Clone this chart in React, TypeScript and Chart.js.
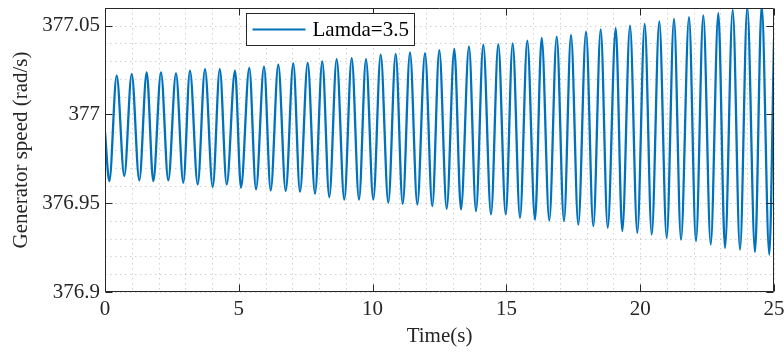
import React, { useEffect, useRef } from "react";
import { Chart, registerables } from "chart.js";

Chart.register(...registerables);

const seriesLabel = "Lamda=3.5";
const xAxisTitle = "Time(s)";
const yAxisTitle = "Generator speed (rad/s)";

// Extrema of the oscillation (time in s)
const timeValues = [
  0, 0.161, 0.437, 0.721, 0.998, 1.282, 1.558, 1.805, 2.093, 2.365, 2.653, 2.926,
  3.176, 3.464, 3.737, 4.025, 4.29, 4.548, 4.858, 5.082, 5.392, 5.643, 5.942, 6.192,
  6.476, 6.753, 7.036, 7.287, 7.575, 7.848, 8.12, 8.382, 8.658, 8.942, 9.219, 9.492,
  9.753, 10.026, 10.303, 10.587, 10.863, 11.125, 11.398, 11.671, 11.958, 12.231,
  12.493, 12.769, 13.053, 13.303, 13.602, 13.864, 14.137, 14.425, 14.697, 14.974,
  15.235, 15.508, 15.781, 16.069, 16.319, 16.603, 16.88, 17.152, 17.414, 17.687,
  17.975, 18.248, 18.524, 18.786, 19.085, 19.331, 19.619, 19.892, 20.168, 20.43,
  20.714, 20.99, 21.263, 21.525, 21.824, 22.085, 22.358, 22.635, 22.919, 23.169,
  23.457, 23.73, 24.002, 24.29, 24.54, 24.824, 25.0,
];

// Generator speed (rad/s) at those times
const speedValues = [
  376.99, 376.9625, 377.0219, 376.9654, 377.0228, 376.9629, 377.0237, 376.9625,
  377.0237, 376.9629, 377.0232, 376.9616, 377.0247, 376.9606, 377.0256, 376.9592,
  377.0256, 376.9606, 377.0247, 376.9588, 377.0262, 376.9578, 377.027, 376.9572,
  377.0281, 376.9569, 377.0288, 376.9565, 377.029, 376.9554, 377.0299, 376.9535,
  377.0312, 376.9521, 377.0318, 376.9521, 377.0312, 376.9521, 377.0337, 376.9503,
  377.0341, 376.9497, 377.035, 376.9493, 377.0345, 376.9484, 377.0363, 376.9469,
  377.0369, 376.9465, 377.0383, 376.9456, 377.0394, 376.9437, 377.0397, 376.9437,
  377.0401, 376.9418, 377.0416, 376.9408, 377.0431, 376.9403, 377.0439, 376.9399,
  377.0448, 376.938, 377.0467, 376.9371, 377.0479, 376.9362, 377.0486, 376.9343,
  377.0501, 376.9333, 377.051, 376.9324, 377.0524, 376.9305, 377.0538, 376.9295,
  377.0548, 376.9286, 377.0558, 376.9267, 377.0571, 376.9249, 377.0589, 376.9239,
  377.0605, 376.9226, 377.0614, 376.9211, 377.0425,
];

const xGridValues = [0, 1, 2, 3, 4, 5, 6, 7, 8, 9, 10, 11, 12, 13, 14, 15, 16, 17, 18, 19, 20, 21, 22, 23, 24, 25];
const xLabelValues = [0, 5, 10, 15, 20, 25];
const yGridValues = [376.9, 376.91, 376.92, 376.93, 376.94, 376.95, 376.96, 376.97, 376.98, 376.99, 377, 377.01, 377.02, 377.03, 377.04, 377.05, 377.06];
const yLabelValues = [376.9, 376.95, 377, 377.05];

const FONT = '"Liberation Serif", "Times New Roman", serif';
const AXIS_COLOR = "#262626";
const LINE_COLOR = "#0072BD";

const isLabel = (list: number[], v: number) => list.some((l) => Math.abs(l - v) < 1e-6);

const matlabPlugin = {
  id: "matlabAxes",
  beforeDatasetsDraw(chart: any) {
    const { ctx, chartArea: a, scales } = chart;
    const xs = scales.x;
    const ys = scales.y;
    ctx.save();
    ctx.strokeStyle = "rgba(0,0,0,0.18)";
    ctx.lineWidth = 1;
    ctx.setLineDash([1.5, 3.5]);
    xGridValues.forEach((v) => {
      const px = Math.round(xs.getPixelForValue(v)) + 0.5;
      ctx.beginPath();
      ctx.moveTo(px, a.top);
      ctx.lineTo(px, a.bottom);
      ctx.stroke();
    });
    yGridValues.forEach((v) => {
      const py = Math.round(ys.getPixelForValue(v)) + 0.5;
      ctx.beginPath();
      ctx.moveTo(a.left, py);
      ctx.lineTo(a.right, py);
      ctx.stroke();
    });
    ctx.restore();
  },
  afterDatasetsDraw(chart: any) {
    const { ctx, chartArea: a, scales } = chart;
    const xs = scales.x;
    const ys = scales.y;
    ctx.save();
    ctx.strokeStyle = AXIS_COLOR;
    ctx.lineWidth = 1;
    ctx.setLineDash([]);
    const L = Math.round(a.left) + 0.5;
    const R = Math.round(a.right) - 0.5;
    const T = Math.round(a.top) + 0.5;
    const B = Math.round(a.bottom) - 0.5;
    ctx.beginPath();
    ctx.rect(L, T, R - L, B - T);
    ctx.stroke();
    const tl = 7;
    xLabelValues.forEach((v) => {
      const px = Math.round(xs.getPixelForValue(v)) + 0.5;
      ctx.beginPath();
      ctx.moveTo(px, B);
      ctx.lineTo(px, B - tl);
      ctx.moveTo(px, T);
      ctx.lineTo(px, T + tl);
      ctx.stroke();
    });
    yLabelValues.forEach((v) => {
      const py = Math.round(ys.getPixelForValue(v)) + 0.5;
      ctx.beginPath();
      ctx.moveTo(L, py);
      ctx.lineTo(L + tl, py);
      ctx.moveTo(R, py);
      ctx.lineTo(R - tl, py);
      ctx.stroke();
    });

    // legend box
    const ds = chart.data.datasets[0];
    ctx.font = `21px ${FONT}`;
    const tw = ctx.measureText(ds.label).width;
    const bx = Math.round(a.left + 141) + 0.5;
    const by = Math.round(a.top + 5) + 0.5;
    const bw = Math.round(66 + tw + 6);
    const bh = 32;
    ctx.fillStyle = "#ffffff";
    ctx.fillRect(bx, by, bw, bh);
    ctx.strokeStyle = AXIS_COLOR;
    ctx.lineWidth = 1;
    ctx.strokeRect(bx, by, bw, bh);
    ctx.strokeStyle = ds.borderColor;
    ctx.lineWidth = 2;
    ctx.beginPath();
    ctx.moveTo(bx + 6, by + bh / 2);
    ctx.lineTo(bx + 59, by + bh / 2);
    ctx.stroke();
    ctx.fillStyle = "#000000";
    ctx.textBaseline = "middle";
    ctx.textAlign = "left";
    ctx.fillText(ds.label, bx + 66, by + bh / 2 + 1);
    ctx.restore();
  },
};

export default function App() {
  const canvasRef = useRef<HTMLCanvasElement | null>(null);

  useEffect(() => {
    if (!canvasRef.current) return;
    const points = timeValues.map((t, i) => ({ x: t, y: speedValues[i] }));
    const chart = new Chart(canvasRef.current, {
      type: "line",
      data: {
        datasets: [
          {
            label: seriesLabel,
            data: points,
            borderColor: LINE_COLOR,
            backgroundColor: LINE_COLOR,
            borderWidth: 2.3,
            pointRadius: 0,
            cubicInterpolationMode: "monotone",
            fill: false,
          },
        ],
      },
      options: {
        animation: false,
        responsive: true,
        maintainAspectRatio: false,
        layout: { padding: { left: 0, right: 10, top: 8, bottom: 0 } },
        plugins: {
          legend: { display: false },
          tooltip: { enabled: false },
        },
        scales: {
          x: {
            type: "linear",
            min: 0,
            max: 25,
            grid: { display: false, drawTicks: false },
            border: { display: false },
            afterBuildTicks: (s: any) => {
              s.ticks = xLabelValues.map((v) => ({ value: v }));
            },
            afterFit: (s: any) => {
              s.height = 61;
              s.paddingLeft = 0;
              s.paddingRight = 0;
            },
            ticks: {
              padding: 5,
              maxRotation: 0,
              autoSkip: false,
              color: AXIS_COLOR,
              font: { family: FONT, size: 21 },
              callback: (v: any) => String(v),
            },
            title: {
              display: true,
              text: xAxisTitle,
              color: AXIS_COLOR,
              font: { family: FONT, size: 21 },
              padding: { top: 0, bottom: 4 },
            },
          },
          y: {
            type: "linear",
            min: 376.9,
            max: 377.06,
            grid: { display: false, drawTicks: false },
            border: { display: false },
            afterBuildTicks: (s: any) => {
              s.ticks = yGridValues.map((v) => ({ value: v }));
            },
            afterFit: (s: any) => {
              s.width = 105;
              s.paddingTop = 0;
              s.paddingBottom = 0;
            },
            ticks: {
              padding: 5,
              autoSkip: false,
              color: AXIS_COLOR,
              font: { family: FONT, size: 21 },
              callback: (v: any) =>
                isLabel(yLabelValues, Number(v)) ? String(Number(Number(v).toFixed(2))) : "",
            },
            title: {
              display: true,
              text: yAxisTitle,
              color: AXIS_COLOR,
              font: { family: FONT, size: 21 },
              padding: { top: 9, bottom: 0 },
            },
          },
        },
      },
      plugins: [matlabPlugin],
    });
    return () => chart.destroy();
  }, []);

  return (
    <div style={{ position: "absolute", left: 0, top: 0, width: 784, height: 353, background: "#fff" }}>
      <canvas ref={canvasRef} />
    </div>
  );
}
